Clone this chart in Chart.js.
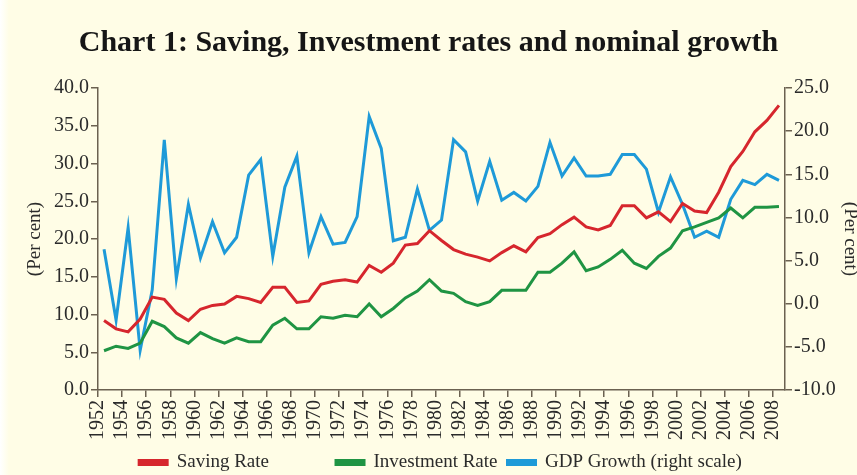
<!DOCTYPE html>
<html>
<head>
<meta charset="utf-8">
<script src="https://cdn.jsdelivr.net/npm/chart.js@4"></script>
<style>
  html,body{margin:0;padding:0;}
  body{width:857px;height:475px;background:linear-gradient(to right,#ffffff 0,#fffde6 9px);}
  #wrap{position:relative;width:857px;height:475px;}
</style>
</head>
<body>
<div id="wrap"><canvas id="chart" width="857" height="475"></canvas></div>
<script>
// years 1952..2008, values
const years = [1952,1953,1954,1955,1956,1957,1958,1959,1960,1961,1962,1963,1964,1965,1966,1967,1968,1969,1970,
  1971,1972,1973,1974,1975,1976,1977,1978,1979,1980,1981,1982,1983,1984,1985,1986,1987,1988,1989,1990,
  1991,1992,1993,1994,1995,1996,1997,1998,1999,2000,2001,2002,2003,2004,2005,2006,2007,2008];

const savingRate = [9.2,8.1,7.7,9.4,12.3,12.0,10.2,9.2,10.7,11.2,11.4,12.4,12.1,11.6,13.6,13.6,11.6,11.8,14.0,
  14.4,14.6,14.3,16.5,15.6,16.8,19.2,19.4,21.1,19.8,18.6,18.0,17.6,17.1,18.2,19.1,18.3,20.2,20.7,21.9,
  22.9,21.6,21.2,21.8,24.4,24.4,22.8,23.6,22.3,24.7,23.7,23.5,26.2,29.6,31.6,34.2,35.7,37.7];

const investmentRate = [5.2,5.8,5.5,6.2,9.1,8.4,6.9,6.2,7.6,6.8,6.2,6.9,6.4,6.4,8.6,9.5,8.1,8.1,9.7,
  9.5,9.9,9.7,11.4,9.7,10.8,12.2,13.1,14.6,13.1,12.8,11.7,11.2,11.7,13.2,13.2,13.2,15.6,15.6,16.8,
  18.3,15.8,16.3,17.3,18.5,16.8,16.1,17.7,18.8,21.1,21.6,22.2,22.8,24.1,22.8,24.2,24.2,24.3];

const gdpGrowth = [6.3,-1.9,8.8,-5.4,1.6,19.0,2.9,11.5,5.3,9.5,5.9,7.7,14.9,16.7,5.5,13.5,17.1,5.9,10.1,
  6.9,7.1,10.1,21.7,18.0,7.3,7.7,13.3,8.5,9.7,19.0,17.6,11.9,16.5,12.0,12.9,11.9,13.6,18.7,14.8,
  16.9,14.8,14.8,15.0,17.3,17.3,15.6,10.6,14.7,11.5,7.7,8.4,7.7,12.1,14.3,13.8,15.0,14.3];

// x tick labels, every other year
const yearTicks = years.filter(y => (y - 1952) % 2 === 0);
const leftTicks = {min:0, max:40, step:5};
const rightTicks = {min:-10, max:25, step:5};
const xRange = {min:1952, max:2009};

const axisColor = '#6b6150';
const textColor = '#2b2b2b';
const serif = "'Liberation Serif', 'Times New Roman', serif";

// each year's point sits in the middle of its year slot
const pts = arr => arr.map((v,i)=>({x:years[i]+0.5, y:v}));
const fixWidth = w => function(scale){ scale.width = w; };

// legend in the original sits a little right of centre
const legendNudge = {
  id:'legendNudge',
  afterLayout(chart){ chart.legend.left += 12; chart.legend.right += 12; }
};

new Chart(document.getElementById('chart'),{
  type:'line',
  data:{datasets:[
    {label:'Saving Rate', data:pts(savingRate), borderColor:'#d6262d', backgroundColor:'#d6262d', yAxisID:'y'},
    {label:'Investment Rate', data:pts(investmentRate), borderColor:'#1f9443', backgroundColor:'#1f9443', yAxisID:'y'},
    {label:'GDP Growth (right scale)', data:pts(gdpGrowth), borderColor:'#1e9ad8', backgroundColor:'#1e9ad8', yAxisID:'y1'}
  ]},
  plugins:[legendNudge],
  options:{
    responsive:false,
    devicePixelRatio:1,
    animation:false,
    elements:{line:{borderWidth:3, tension:0}, point:{radius:0}},
    layout:{padding:0},
    plugins:{
      title:{display:true, text:'Chart 1: Saving, Investment rates and nominal growth',
        color:'#161616', font:{family:serif, size:30, weight:'bold'}, padding:{top:25,bottom:27}},
      legend:{position:'bottom', maxHeight:32,
        labels:{color:textColor, font:{family:serif, size:19}, boxWidth:28, boxHeight:4, padding:10,
          // wider gap after the first entry, as in the original
          generateLabels(chart){
            const items = Chart.defaults.plugins.legend.labels.generateLabels(chart);
            items[0].text = items[0].text + '            ';
            return items;
          }}},
      tooltip:{enabled:false}
    },
    scales:{
      x:{type:'linear', min:xRange.min, max:xRange.max,
        afterBuildTicks(scale){ scale.ticks = yearTicks.map(v=>({value:v})); },
        border:{color:axisColor, width:1.5},
        grid:{drawOnChartArea:false, color:axisColor, tickLength:7, lineWidth:1.5},
        ticks:{autoSkip:false, maxRotation:90, minRotation:90, padding:3,
          color:textColor, font:{family:serif, size:20},
          callback:v=>String(v)}
      },
      y:{position:'left', min:leftTicks.min, max:leftTicks.max, afterFit:fixWidth(98),
        border:{color:axisColor, width:1.5},
        grid:{drawOnChartArea:false, color:axisColor, tickLength:7, lineWidth:1.5},
        ticks:{stepSize:leftTicks.step, color:textColor, padding:2, font:{family:serif, size:20},
          callback:v=>v.toFixed(1)},
        title:{display:true, text:'(Per cent)', color:textColor, font:{family:serif, size:19}, padding:{top:24,bottom:0}}
      },
      y1:{position:'right', min:rightTicks.min, max:rightTicks.max, afterFit:fixWidth(72),
        border:{color:axisColor, width:1.5},
        grid:{drawOnChartArea:false, color:axisColor, tickLength:7, lineWidth:1.5},
        ticks:{stepSize:rightTicks.step, color:textColor, padding:2, font:{family:serif, size:20},
          callback:v=>v.toFixed(1)},
        title:{display:true, text:'(Per cent)', color:textColor, font:{family:serif, size:19}, padding:{top:-4,bottom:0}}
      }
    }
  }
});
</script>
</body>
</html>
